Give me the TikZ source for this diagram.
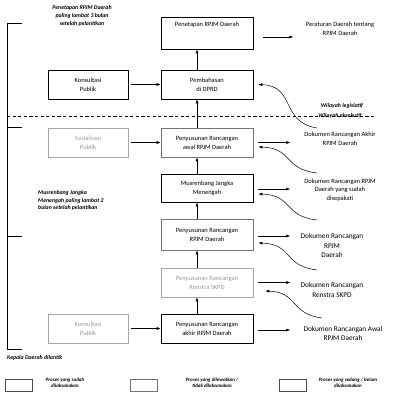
\documentclass[tikz,border=0pt]{standalone}
\usepackage{fontspec}
\setmainfont{Carlito}
\usetikzlibrary{arrows.meta}
\begin{document}
\begin{tikzpicture}[x=1pt,y=-1pt,
  box/.style={draw, line width=0.6pt, minimum width=92pt, minimum height=29pt, inner sep=1pt, align=center, font=\fontsize{6.5}{9}\selectfont},
  lbox/.style={box, minimum width=80pt},
  midgrey/.style={draw=black!55},
  ghost/.style={draw=black!35, text=black!40},
  arr/.style={-{Latex[length=4pt,width=3pt]}, line width=0.5pt},
  note/.style={font=\fontsize{5.8}{7.8}\selectfont\bfseries\itshape, align=center, inner sep=0pt},
  doc/.style={align=center, inner sep=0pt, font=\fontsize{6.5}{8.6}\selectfont},
  bigdoc/.style={align=center, inner sep=0pt, font=\fontsize{7.3}{9.6}\selectfont},
  legbox/.style={draw=black!70, line width=0.5pt, minimum width=27pt, minimum height=12pt, inner sep=0pt},
  legtext/.style={font=\fontsize{5}{6.4}\selectfont\bfseries\itshape, align=center, inner sep=0pt}
]
\useasboundingbox (0,0) rectangle (400,400);

% left bracket
\coordinate (k0) at (7,23);
\coordinate (k1) at (7,127);
\coordinate (k2) at (7,236);
\coordinate (k3) at (7,349);
\draw[line width=0.6pt] (k0) -- (k3);
\foreach \k in {k0,k1,k2,k3} \draw[line width=0.6pt] (\k) -- ++(15,0);

% dashed border legislatif / eksekutif
\coordinate (d0) at (7,116);
\coordinate (d1) at (376,116);
\draw[line width=0.45pt, dash pattern=on 3.2pt off 2.4pt] (d0) -- (d1);

% middle column
\node[box, minimum height=32pt, label={[doc,anchor=north,yshift=-5pt]north:Penetapan RPJM Daerah}] (b1) at (207,33) {};
\node[box] (b2) at (207,84.5) {Pembahasan\\di DPRD};
\node[box, midgrey] (b3) at (207,142.5) {Penyusunan Rancangan\\awal RPJM Daerah};
\node[box, minimum height=28pt] (b4) at (207,188) {Musrenbang Jangka\\Menengah};
\node[box, midgrey, minimum height=31pt] (b5) at (207,234.5) {Penyusunan Rancangan\\RPJM Daerah};
\node[box, ghost] (b6) at (207,282.5) {Penyusunan Rancangan\\Renstra SKPD};
\node[box] (b7) at (207,328.5) {Penyusunan Rancangan\\akhir RPJM Daerah};

% left column
\node[lbox] (l1) at (88,84.5) {Konsultasi\\Publik};
\node[lbox, ghost] (l2) at (88,142.5) {Sosialisasi\\Publik};
\node[lbox, ghost] (l3) at (88,328.5) {Konsultasi\\Publik};

% vertical arrows
\draw[arr] ([xshift=-10pt]b2.north) -- ([xshift=-10pt]b1.south);
\draw[arr] ([xshift=-10pt]b3.north) -- ([xshift=-10pt]b2.south);
\draw[arr] ([xshift=-10pt]b4.north) -- ([xshift=-10pt]b3.south);
\draw[arr] ([xshift=-10pt]b5.north) -- ([xshift=-10pt]b4.south);
\draw[arr] ([xshift=-10pt]b6.north) -- ([xshift=-10pt]b5.south);
\draw[arr] ([xshift=-10pt]b7.north) -- ([xshift=-10pt]b6.south);

% horizontal arrows from left
\draw[arr] ([xshift=3pt]l1.east) -- (b2.west);
\draw[arr] ([xshift=3pt]l2.east) -- (b3.west);
\draw[arr] ([xshift=3pt]l3.east) -- (b7.west);

% right texts
\node[doc] (r1) at (340,29) {Peraturan Daerah tentang\\RPJM Daerah};
\node[doc] (r2) at (340,139) {Dokumen Rancangan Akhir\\RPJM Daerah};
\node[doc] (r3) at (340,190) {Dokumen Rancangan RPJM\\Daerah yang sudah\\disepakati};
\node[bigdoc] (r4) at (332,245.5) {Dokumen Rancangan\\RPJM\\Daerah};
\node[bigdoc] (r5) at (332,290) {Dokumen Rancangan\\Renstra SKPD};
\node[bigdoc] (r6) at (343,333.5) {Dokumen Rancangan Awal\\RPJM Daerah};

% right arrows
\draw[arr] ([xshift=10pt,yshift=-4pt]b1.east) -- ++(30,0);
\draw[arr] ([xshift=5pt]b3.east) -- ++(32,0);
\draw[arr] ([xshift=5pt,yshift=-1pt]b4.east) -- ++(32,0);
\draw[arr] ([xshift=5pt,yshift=-1.5pt]b5.east) -- ++(32,0);
\draw[arr] ([xshift=5pt]b6.east) -- ++(32,0);
\draw[arr] ([xshift=5pt,yshift=-1.5pt]b7.east) -- ++(32,0);

% curved feedback arrows
\coordinate (c2) at (317,128);
\coordinate (c3) at (317,173);
\coordinate (c4) at (317,220);
\coordinate (c5) at (317,270);
\coordinate (c6) at (322,318);
\draw[arr] (c2) .. controls (280,122) and (296,86) .. ([xshift=5pt]b2.east);
\draw[arr] (c3) .. controls (283,169) and (293,148) .. ([xshift=5pt,yshift=-4.5pt]b3.east);
\draw[arr] (c4) .. controls (283,216) and (293,195) .. ([xshift=5pt,yshift=-6pt]b4.east);
\draw[arr] (c5) .. controls (283,266) and (293,244) .. ([xshift=5pt,yshift=-8.5pt]b5.east);
\draw[arr] (c6) .. controls (290,314) and (298,292) .. ([xshift=12pt,yshift=-8.5pt]b6.east);

% notes
\node[note] (n1) at (82,16) {Penetapan RPJM Daerah\\paling lambat 3 bulan\\setelah pelantikan};
\node[note, align=left, anchor=west] (n2) at (38,200.5) {Musrenbang Jangka\\Menengah paling lambat 2\\bulan setelah pelantikan};
\node[note, anchor=west] (n3) at (7,358) {Kepala Daerah dilantik};
\node[note] (w1) at (342,106) {Wilayah legislatif};
\node[note] (w2) at (340,115.5) {Wilayah eksekutif};

% legend
\node[legbox] (g1) at (18.5,385) {};
\node[legbox, draw=black!55] (g2) at (143.5,385) {};
\node[legbox] (g3) at (292.5,385) {};
\node[legtext] (gt1) at (65,382.5) {Proses yang sudah\\dilaksanakan};
\node[legtext] (gt2) at (212,382.5) {Proses yang dilewatkan /\\tidak dilaksanakan};
\node[legtext] (gt3) at (348,382.5) {Proses yang sedang / belum\\dilaksanakan};
\end{tikzpicture}
\end{document}
